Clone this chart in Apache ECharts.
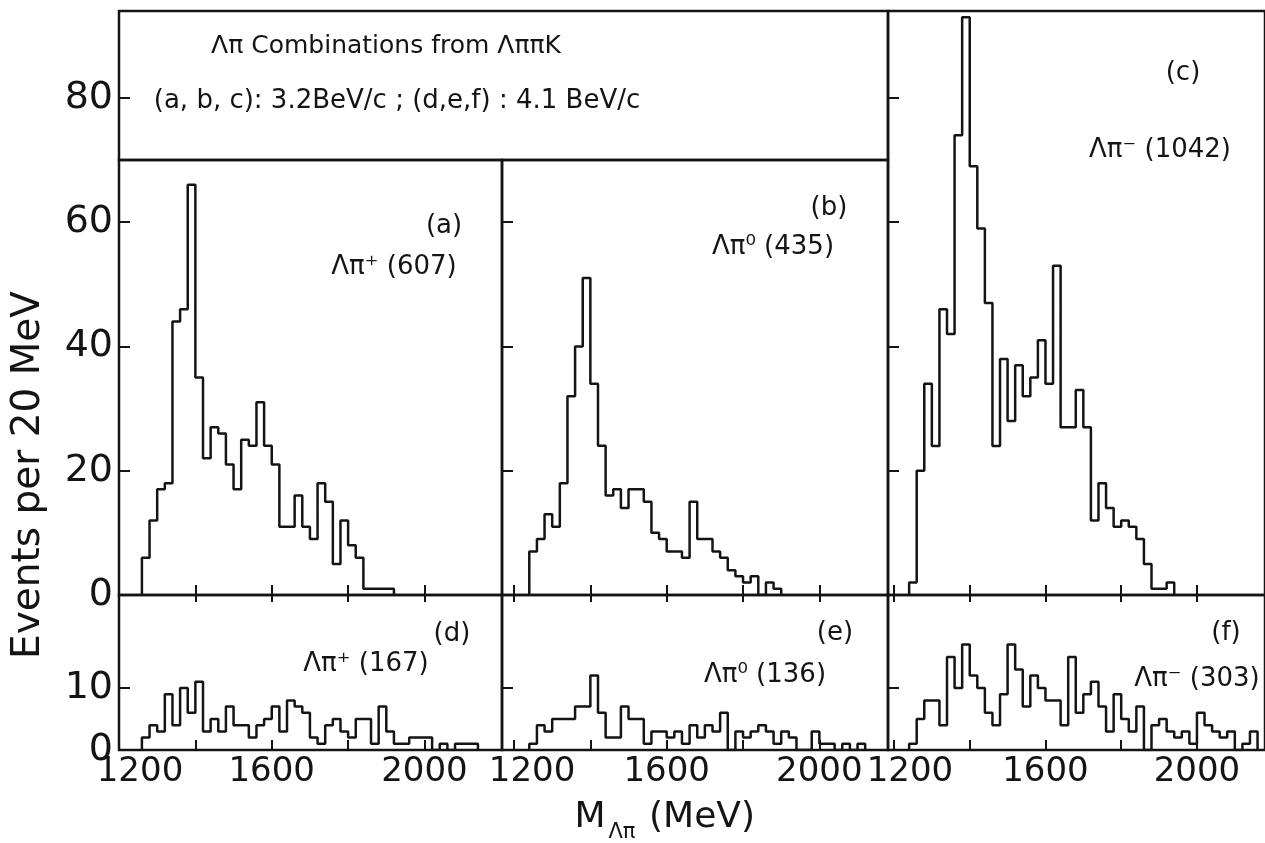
<!DOCTYPE html>
<html><head><meta charset="utf-8">
<script src="https://cdn.jsdelivr.net/npm/echarts@6/dist/echarts.min.js"></script>
<style>html,body{margin:0;padding:0;background:#fff}#c{width:1265px;height:843px}</style>
</head><body><div id="c"></div>
<script>
// ---- data (events per 20 MeV bin) ----
const BIN = 20;
const startA = 1260, startB = 1240, startC = 1240;
const startD = 1260, startE = 1240, startF = 1240;
const countsA = [6,12,17,18,44,46,66,35,22,27,26,21,17,25,24,31,24,21,11,11,16,11,9,18,15,5,12,8,6,1,1,1,1];
const countsB = [7,9,13,11,18,32,40,51,34,24,16,17,14,17,17,15,10,9,7,7,6,15,9,9,7,6,4,3,2,3,0,2,1];
const countsC = [2,20,34,24,46,42,74,93,69,59,47,24,38,28,37,32,35,41,34,53,27,27,33,27,12,18,14,11,12,11,9,5,1,1,2];
const countsD = [2,4,3,9,4,10,6,11,3,5,3,7,4,4,2,4,5,7,3,8,7,6,2,1,4,5,3,2,5,5,1,7,3,1,1,2,2,2,0,1,0,1,1,1];
const countsE = [1,4,3,5,5,5,7,7,12,6,2,2,7,5,5,1,3,3,2,3,1,4,2,4,3,6,0,3,2,3,4,3,1,3,2,0,0,3,1,1,0,1,0,1];
const countsF = [1,5,8,8,4,15,10,17,12,10,6,4,9,17,13,7,12,10,8,8,4,15,6,9,11,7,3,9,5,3,7,0,4,5,3,2,3,1,6,4,3,2,3,0,1,3];
const xTickValues = [1200,1400,1600,1800,2000];
const xLabelValues = [1200,1600,2000];
const yTickTop = [20,40,60];
const yTickC = [20,40,60,80];
const yLabelTop = [0,20,40,60];
const yTickTitle = [80];
const yTickBottom = [10];
const yLabelBottom = [0,10];
const panelTags = ['(a)','(b)','(c)','(d)','(e)','(f)'];
const panelNames = ['Λπ⁺ (607)','Λπ⁰ (435)','Λπ⁻ (1042)','Λπ⁺ (167)','Λπ⁰ (136)','Λπ⁻ (303)'];
const titleLine1 = 'Λπ Combinations from ΛππK';
const titleLine2 = '(a, b, c): 3.2BeV/c ; (d,e,f) : 4.1 BeV/c';
const yTitle = 'Events per 20 MeV';

// ---- build ----
const INK = '#141414';
const FONT = 'DejaVu Sans';
function hist(start, counts) {
  const pts = [[start, 0]];
  counts.forEach((c, i) => pts.push([start + i * BIN, c]));
  pts.push([start + counts.length * BIN, 0]);
  return pts;
}
const grids = [
  {left:119, top:160, width:383, height:435},
  {left:502, top:160, width:386, height:435},
  {left:888, top:11,  width:380, height:584},
  {left:119, top:595, width:383, height:155},
  {left:502, top:595, width:386, height:155},
  {left:888, top:595, width:380, height:155},
  {left:119, top:11,  width:769, height:149}
].map(g => Object.assign({show:true, borderColor:INK, borderWidth:2.5, backgroundColor:'transparent'}, g));

const xRanges = [[1200,2203],[1168.5,2179.8],[1184.2,2179.7],[1200,2203],[1168.5,2179.8],[1184.2,2179.7]];
const shift1200 = [42,36,32];
function xAxisFor(i, withLabels, position, tickLen) {
  const col = i % 3;
  return {
    type:'value', gridIndex:i, position:position, min:xRanges[i][0], max:xRanges[i][1],
    axisLine:{show:false}, splitLine:{show:false},
    axisTick:{show:true, inside:true, length:tickLen, customValues:xTickValues, lineStyle:{color:INK, width:2}},
    axisLabel:{show:withLabels, customValues:xLabelValues, color:INK, fontFamily:FONT, fontSize:34, margin:5,
      formatter:(v) => v === 1200 ? '{f|1200}' : String(v),
      rich:{f:{padding:[0,0,0,shift1200[col]], fontSize:34, fontFamily:FONT, color:INK}}}
  };
}
const xAxes = [];
for (let i = 0; i < 3; i++) xAxes.push(xAxisFor(i, false, 'bottom', 10));
for (let i = 3; i < 6; i++) xAxes.push(xAxisFor(i, true, 'bottom', 10));
xAxes.push({type:'value', gridIndex:6, min:0, max:1, show:false});
for (let i = 3; i < 6; i++) xAxes.push(xAxisFor(i, false, 'top', 7));
function yAxisFor(grid, min, max, ticks, labels) {
  return {
    type:'value', gridIndex:grid, min:min, max:max,
    axisLine:{show:false}, splitLine:{show:false},
    axisTick:{show:true, inside:true, length:11, customValues:ticks, lineStyle:{color:INK, width:2}},
    axisLabel:{show:!!labels, customValues:labels || [], color:INK, fontFamily:FONT, fontSize:38, margin:6}
  };
}
const yAxes = [
  yAxisFor(0, 0, 70, yTickTop, yLabelTop),
  yAxisFor(1, 0, 70, yTickTop, null),
  yAxisFor(2, 0, 94, yTickC, null),
  yAxisFor(3, 0, 25, yTickBottom, yLabelBottom),
  yAxisFor(4, 0, 25, yTickBottom, null),
  yAxisFor(5, 0, 25, yTickBottom, null),
  yAxisFor(6, 70, 94, yTickTitle, yTickTitle)
];
const allCounts = [[startA,countsA],[startB,countsB],[startC,countsC],[startD,countsD],[startE,countsE],[startF,countsF]];
const series = allCounts.map((sc, i) => ({
  type:'line', step:'end', xAxisIndex:i, yAxisIndex:i, data:hist(sc[0], sc[1]),
  symbol:'none', silent:true, lineStyle:{color:INK, width:2.5}, z:5
}));

const tagPos = [[444,226],[829,208],[1183,73],[452,634],[835,633],[1226,633]];
const namePos = [[394,267],[773,247],[1160,150],[366,664],[765,675],[1197,679]];
const graphics = [];
function txt(x, y, s, size, extra) {
  graphics.push(Object.assign({type:'text', x:x, y:y, z:20, silent:true,
    style:{text:s, fill:INK, font:size + 'px "' + FONT + '"', textAlign:'center', textVerticalAlign:'middle'}}, extra || {}));
}
panelTags.forEach((t, i) => txt(tagPos[i][0], tagPos[i][1], t, 26));
panelNames.forEach((t, i) => txt(namePos[i][0], namePos[i][1], t, 26));
txt(386, 46, titleLine1, 25);
txt(397, 101, titleLine2, 26);
txt(29, 475, yTitle, 39, {rotation:Math.PI/2});
// x-axis title M_{Λπ} (MeV)
txt(590, 818, 'M', 36);
txt(622, 833, 'Λπ', 21);
txt(702, 818, '(MeV)', 36);

const chart = echarts.init(document.getElementById('c'), null, {renderer:'canvas'});
chart.setOption({
  animation:false,
  backgroundColor:'#ffffff',
  textStyle:{fontFamily:FONT, color:INK},
  grid:grids, xAxis:xAxes, yAxis:yAxes, series:series, graphic:graphics
});
</script>
</body></html>
